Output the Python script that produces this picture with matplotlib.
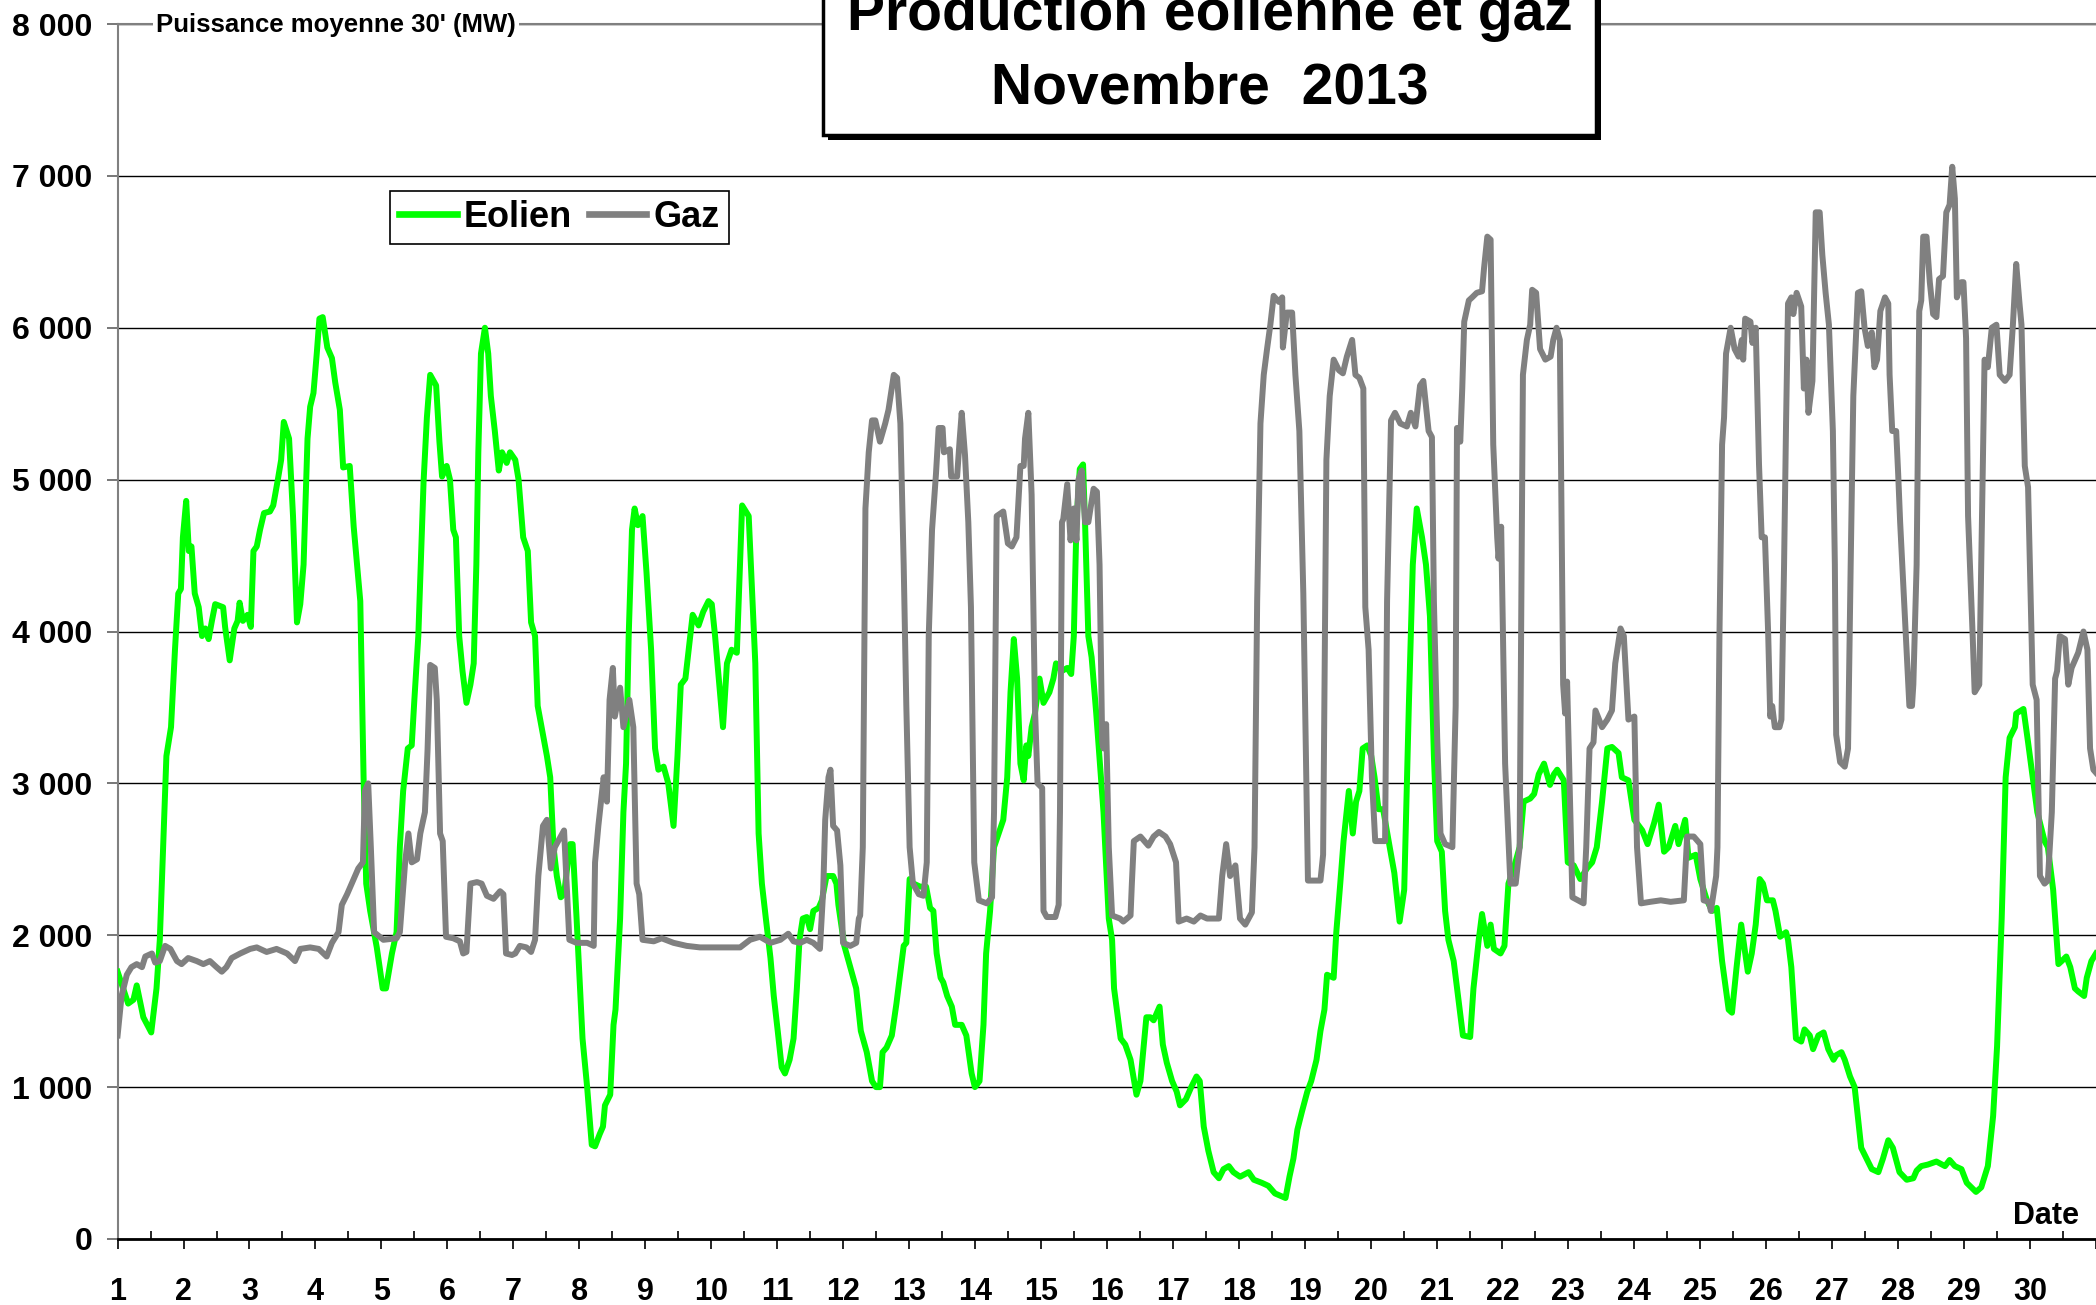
"""
Production eolienne et gaz - Novembre 2013
Puissance moyenne 30' (MW), valeurs relevees sur le graphique
"""
import matplotlib
matplotlib.use('Agg')
import matplotlib.pyplot as plt
from matplotlib.patches import Rectangle

plt.rcParams['font.family'] = ['Liberation Sans', 'DejaVu Sans']
plt.rcParams['font.weight'] = 'bold'

TITLE_1 = "Production éolienne et gaz"
TITLE_2 = "Novembre  2013"
Y_LABEL = "Puissance moyenne 30' (MW)"
X_LABEL = "Date"

DAYS = list(range(1, 31))
Y_TICKS = [0, 1000, 2000, 3000, 4000, 5000, 6000, 7000, 8000]
Y_TICK_LABELS = ['0', '1 000', '2 000', '3 000', '4 000', '5 000', '6 000', '7 000', '8 000']

# jour (fractionnaire), MW
EOLIEN_T = [
    1.00, 1.16, 1.24, 1.29, 1.39, 1.51, 1.59, 1.64, 1.69, 1.74, 1.81, 1.87, 1.92, 1.96, 1.99,
    2.04, 2.08, 2.12, 2.17, 2.23, 2.28, 2.33, 2.38, 2.43, 2.48, 2.60, 2.63, 2.70, 2.77, 2.82,
    2.85, 2.90, 2.97, 3.02, 3.06, 3.11, 3.16, 3.22, 3.31, 3.36, 3.43, 3.48, 3.52, 3.60, 3.66,
    3.72, 3.77, 3.82, 3.88, 3.92, 3.97, 4.02, 4.06, 4.11, 4.18, 4.25, 4.30, 4.37, 4.42, 4.52,
    4.58, 4.68, 4.73, 4.77, 4.83, 4.93, 5.02, 5.07, 5.16, 5.23, 5.28, 5.33, 5.40, 5.46, 5.50,
    5.56, 5.64, 5.69, 5.74, 5.83, 5.88, 5.92, 5.99, 6.04, 6.09, 6.13, 6.18, 6.23, 6.29, 6.35,
    6.40, 6.44, 6.47, 6.51, 6.57, 6.62, 6.66, 6.72, 6.78, 6.83, 6.90, 6.95, 7.03, 7.08, 7.15,
    7.22, 7.27, 7.33, 7.37, 7.43, 7.51, 7.56, 7.61, 7.66, 7.72, 7.77, 7.86, 7.90, 7.96, 8.05,
    8.12, 8.19, 8.24, 8.31, 8.36, 8.39, 8.47, 8.52, 8.55, 8.62, 8.67, 8.71, 8.75, 8.80, 8.84,
    8.89, 8.96, 9.02, 9.09, 9.15, 9.20, 9.28, 9.35, 9.43, 9.49, 9.54, 9.61, 9.66, 9.72, 9.81,
    9.88, 9.96, 10.01, 10.06, 10.18, 10.24, 10.31, 10.39, 10.47, 10.57, 10.67, 10.72, 10.77, 10.83, 10.90,
    10.95, 11.01, 11.07, 11.12, 11.19, 11.25, 11.30, 11.34, 11.39, 11.45, 11.50, 11.55, 11.63, 11.68, 11.75,
    11.85, 11.90, 11.93, 12.02, 12.11, 12.20, 12.27, 12.36, 12.44, 12.50, 12.56, 12.60, 12.66, 12.74, 12.81,
    12.87, 12.92, 12.96, 13.01, 13.07, 13.17, 13.26, 13.32, 13.37, 13.42, 13.48, 13.52, 13.58, 13.65, 13.70,
    13.80, 13.87, 13.95, 14.00, 14.07, 14.13, 14.17, 14.23, 14.29, 14.36, 14.43, 14.49, 14.54, 14.59, 14.64,
    14.69, 14.74, 14.78, 14.81, 14.86, 14.91, 14.98, 15.04, 15.13, 15.19, 15.23, 15.32, 15.40, 15.46, 15.50,
    15.54, 15.59, 15.64, 15.67, 15.72, 15.77, 15.84, 15.90, 15.95, 16.03, 16.08, 16.11, 16.21, 16.28, 16.36,
    16.45, 16.51, 16.60, 16.66, 16.71, 16.80, 16.85, 16.91, 16.99, 17.06, 17.11, 17.20, 17.28, 17.36, 17.41,
    17.47, 17.54, 17.62, 17.70, 17.77, 17.85, 17.92, 18.02, 18.15, 18.23, 18.35, 18.45, 18.55, 18.71, 18.77,
    18.83, 18.89, 18.96, 19.04, 19.10, 19.18, 19.24, 19.30, 19.34, 19.44, 19.48, 19.54, 19.59, 19.67, 19.73,
    19.78, 19.83, 19.88, 19.95, 20.01, 20.06, 20.12, 20.19, 20.29, 20.36, 20.44, 20.51, 20.58, 20.64, 20.70,
    20.78, 20.84, 20.90, 20.96, 21.01, 21.08, 21.13, 21.18, 21.26, 21.34, 21.40, 21.51, 21.56, 21.64, 21.69,
    21.77, 21.82, 21.87, 21.97, 22.03, 22.09, 22.17, 22.26, 22.32, 22.42, 22.48, 22.55, 22.63, 22.72, 22.78,
    22.83, 22.93, 22.99, 23.08, 23.18, 23.28, 23.36, 23.43, 23.51, 23.59, 23.66, 23.76, 23.81, 23.91, 24.00,
    24.12, 24.20, 24.30, 24.37, 24.45, 24.52, 24.62, 24.67, 24.77, 24.82, 24.93, 25.00, 25.10, 25.18, 25.25,
    25.33, 25.43, 25.48, 25.55, 25.62, 25.72, 25.78, 25.84, 25.90, 25.95, 26.01, 26.10, 26.14, 26.21, 26.30,
    26.33, 26.38, 26.45, 26.53, 26.58, 26.66, 26.71, 26.79, 26.87, 26.94, 27.02, 27.06, 27.14, 27.19, 27.27,
    27.34, 27.44, 27.52, 27.60, 27.70, 27.77, 27.85, 27.92, 28.02, 28.13, 28.23, 28.28, 28.35, 28.45, 28.58,
    28.71, 28.78, 28.86, 28.96, 29.04, 29.11, 29.18, 29.26, 29.36, 29.44, 29.50, 29.57, 29.60, 29.63, 29.69,
    29.77, 29.79, 29.90, 29.97, 30.04, 30.11, 30.22, 30.27, 30.35, 30.43, 30.48, 30.55, 30.61, 30.68, 30.73,
    30.82, 30.86, 30.93, 31.00,
]
EOLIEN_MW = [
    1760, 1550, 1575, 1670, 1460, 1360, 1650, 1970, 2580, 3180, 3370, 3880, 4250, 4280, 4620,
    4860, 4530, 4560, 4250, 4160, 3970, 4020, 3950, 4070, 4180, 4160, 4030, 3810, 4020, 4070,
    4190, 4070, 4110, 4030, 4530, 4560, 4670, 4780, 4790, 4830, 5000, 5130, 5380, 5270, 4760,
    4060, 4180, 4440, 5270, 5480, 5570, 5830, 6060, 6070, 5870, 5800, 5640, 5460, 5080, 5090,
    4690, 4200, 3040, 2340, 2160, 1920, 1650, 1650, 1880, 2020, 2580, 2950, 3230, 3250, 3550,
    3970, 4990, 5410, 5690, 5620, 5250, 5020, 5090, 5000, 4670, 4620, 3970, 3740, 3530, 3650,
    3790, 4440, 5180, 5830, 6000, 5830, 5550, 5320, 5060, 5180, 5110, 5180, 5130, 5000, 4620,
    4530, 4060, 3970, 3510, 3370, 3180, 3040, 2580, 2390, 2250, 2270, 2600, 2600, 2110, 1320,
    1000, 620, 610, 690, 740, 880, 950, 1410, 1510, 2110, 2810, 3130, 3970, 4670, 4810,
    4700, 4760, 4390, 3880, 3230, 3090, 3110, 3000, 2720, 3180, 3650, 3690, 3880, 4110, 4040,
    4130, 4200, 4180, 3970, 3370, 3790, 3880, 3860, 4830, 4760, 3790, 2670, 2340, 2110, 1850,
    1600, 1370, 1130, 1090, 1180, 1320, 1650, 1970, 2110, 2120, 2040, 2160, 2180, 2230, 2390,
    2390, 2340, 2200, 1930, 1790, 1650, 1370, 1230, 1040, 1000, 1000, 1230, 1260, 1340, 1550,
    1760, 1930, 1950, 2370, 2340, 2320, 2320, 2180, 2160, 1880, 1720, 1690, 1600, 1530, 1410,
    1410, 1340, 1090, 1000, 1040, 1410, 1880, 2160, 2580, 2670, 2760, 3040, 3600, 3950, 3690,
    3130, 3020, 3250, 3180, 3370, 3460, 3690, 3530, 3600, 3690, 3790, 3740, 3760, 3720, 3970,
    4720, 5070, 5100, 4720, 3970, 3830, 3460, 3100, 2810, 2110, 1970, 1650, 1320, 1280, 1180,
    950, 1040, 1460, 1460, 1440, 1530, 1280, 1160, 1040, 970, 880, 920, 1000, 1070, 1040,
    740, 580, 440, 400, 460, 480, 440, 410, 440, 390, 370, 350, 300, 270, 410,
    530, 720, 840, 970, 1040, 1180, 1370, 1510, 1740, 1720, 2020, 2340, 2620, 2950, 2670,
    2880, 2950, 3230, 3250, 3180, 3040, 2830, 2830, 2580, 2410, 2090, 2300, 3510, 4440, 4810,
    4620, 4440, 4100, 3180, 2620, 2550, 2160, 1970, 1830, 1550, 1340, 1330, 1650, 1970, 2140,
    1930, 2070, 1910, 1880, 1930, 2340, 2440, 2580, 2880, 2900, 2930, 3060, 3130, 2990, 3060,
    3090, 3020, 2480, 2460, 2370, 2440, 2480, 2580, 2880, 3230, 3240, 3200, 3040, 3020, 2760,
    2690, 2600, 2740, 2860, 2550, 2580, 2720, 2600, 2760, 2510, 2530, 2370, 2230, 2160, 2180,
    1830, 1510, 1490, 1790, 2070, 1760, 1880, 2070, 2370, 2340, 2230, 2230, 2160, 1990, 2020,
    1970, 1790, 1320, 1300, 1380, 1340, 1250, 1340, 1360, 1250, 1180, 1210, 1230, 1180, 1070,
    1000, 600, 530, 460, 440, 530, 650, 600, 440, 390, 400, 450, 480, 490, 510,
    480, 520, 480, 460, 370, 340, 310, 340, 480, 810, 1270, 2110, 2580, 3040, 3300,
    3370, 3460, 3490, 3270, 3040, 2810, 2620, 2580, 2300, 1810, 1830, 1860, 1790, 1650, 1630,
    1600, 1720, 1830, 1880,
]

GAZ_T = [
    1.00, 1.06, 1.14, 1.21, 1.29, 1.37, 1.42, 1.52, 1.57, 1.64, 1.72, 1.80, 1.90, 1.97, 2.07,
    2.20, 2.30, 2.40, 2.50, 2.58, 2.65, 2.73, 2.86, 3.01, 3.11, 3.26, 3.41, 3.57, 3.69, 3.77,
    3.92, 4.05, 4.17, 4.25, 4.35, 4.40, 4.48, 4.55, 4.65, 4.72, 4.75, 4.80, 4.84, 4.89, 5.03,
    5.23, 5.28, 5.36, 5.41, 5.46, 5.54, 5.59, 5.66, 5.70, 5.74, 5.81, 5.84, 5.89, 5.93, 5.98,
    6.09, 6.19, 6.24, 6.29, 6.35, 6.45, 6.52, 6.60, 6.70, 6.80, 6.85, 6.89, 6.98, 7.03, 7.10,
    7.20, 7.27, 7.33, 7.38, 7.45, 7.51, 7.57, 7.63, 7.77, 7.85, 7.96, 8.12, 8.22, 8.24, 8.29,
    8.37, 8.42, 8.46, 8.51, 8.54, 8.62, 8.67, 8.76, 8.82, 8.87, 8.91, 8.96, 9.13, 9.25, 9.43,
    9.63, 9.83, 10.19, 10.44, 10.59, 10.74, 10.90, 11.05, 11.17, 11.25, 11.35, 11.45, 11.55, 11.65, 11.70,
    11.73, 11.78, 11.81, 11.85, 11.91, 11.96, 12.00, 12.11, 12.20, 12.24, 12.26, 12.30, 12.34, 12.39, 12.44,
    12.49, 12.56, 12.64, 12.69, 12.77, 12.82, 12.87, 12.92, 12.96, 13.01, 13.06, 13.15, 13.22, 13.27, 13.30,
    13.35, 13.41, 13.45, 13.51, 13.53, 13.62, 13.64, 13.73, 13.77, 13.80, 13.85, 13.90, 13.94, 13.99, 14.06,
    14.18, 14.26, 14.29, 14.33, 14.43, 14.50, 14.56, 14.63, 14.69, 14.74, 14.76, 14.81, 14.86, 14.91, 14.95,
    15.02, 15.04, 15.09, 15.22, 15.27, 15.29, 15.32, 15.34, 15.40, 15.45, 15.50, 15.54, 15.57, 15.62, 15.67,
    15.72, 15.80, 15.85, 15.89, 15.93, 15.95, 15.99, 16.03, 16.08, 16.20, 16.25, 16.36, 16.38, 16.41, 16.51,
    16.63, 16.71, 16.79, 16.89, 16.96, 17.05, 17.09, 17.21, 17.32, 17.42, 17.52, 17.70, 17.75, 17.81, 17.87,
    17.95, 18.02, 18.10, 18.20, 18.24, 18.28, 18.33, 18.38, 18.43, 18.48, 18.53, 18.61, 18.66, 18.67, 18.73,
    18.81, 18.86, 18.92, 18.98, 19.05, 19.24, 19.28, 19.33, 19.38, 19.44, 19.52, 19.58, 19.64, 19.72, 19.77,
    19.83, 19.89, 19.92, 19.97, 20.02, 20.07, 20.22, 20.25, 20.31, 20.37, 20.45, 20.55, 20.61, 20.68, 20.75,
    20.80, 20.88, 20.93, 20.96, 21.01, 21.06, 21.13, 21.24, 21.29, 21.31, 21.36, 21.39, 21.42, 21.49, 21.54,
    21.61, 21.69, 21.72, 21.77, 21.82, 21.86, 21.92, 21.94, 21.98, 22.04, 22.12, 22.20, 22.26, 22.31, 22.37,
    22.42, 22.45, 22.51, 22.57, 22.65, 22.73, 22.77, 22.82, 22.87, 22.92, 22.95, 22.98, 23.06, 23.23, 23.27,
    23.32, 23.38, 23.41, 23.51, 23.59, 23.66, 23.71, 23.79, 23.84, 23.91, 24.00, 24.04, 24.10, 24.24, 24.40,
    24.55, 24.75, 24.80, 24.90, 25.00, 25.05, 25.13, 25.16, 25.24, 25.26, 25.29, 25.33, 25.36, 25.39, 25.46,
    25.52, 25.58, 25.63, 25.65, 25.68, 25.76, 25.79, 25.84, 25.89, 25.93, 25.98, 26.03, 26.06, 26.09, 26.13,
    26.20, 26.23, 26.27, 26.30, 26.33, 26.38, 26.41, 26.46, 26.53, 26.57, 26.61, 26.64, 26.70, 26.75, 26.81,
    26.85, 26.90, 26.95, 27.01, 27.04, 27.06, 27.12, 27.19, 27.24, 27.28, 27.32, 27.39, 27.44, 27.49, 27.54,
    27.60, 27.64, 27.68, 27.73, 27.80, 27.85, 27.87, 27.91, 27.97, 28.00, 28.03, 28.09, 28.17, 28.21, 28.23,
    28.28, 28.32, 28.35, 28.38, 28.43, 28.48, 28.53, 28.58, 28.62, 28.68, 28.73, 28.78, 28.82, 28.86, 28.89,
    28.96, 28.99, 29.03, 29.06, 29.13, 29.16, 29.23, 29.26, 29.31, 29.36, 29.42, 29.49, 29.54, 29.62, 29.69,
    29.74, 29.79, 29.84, 29.87, 29.92, 29.97, 30.04, 30.10, 30.15, 30.22, 30.27, 30.33, 30.38, 30.41, 30.45,
    30.53, 30.58, 30.63, 30.73, 30.81, 30.87, 30.91, 30.96, 31.00,
]
GAZ_MW = [
    1340, 1600, 1740, 1790, 1810, 1790, 1860, 1880, 1820, 1830, 1930, 1910, 1830, 1810, 1850,
    1830, 1810, 1830, 1790, 1760, 1790, 1850, 1880, 1910, 1920, 1890, 1910, 1880, 1830, 1910,
    1920, 1910, 1860, 1950, 2020, 2200, 2270, 2340, 2440, 2480, 2950, 3000, 2580, 2020, 1970,
    1980, 2020, 2480, 2670, 2480, 2500, 2670, 2810, 3220, 3780, 3760, 3550, 2670, 2620, 1990,
    1980, 1960, 1880, 1890, 2340, 2350, 2340, 2260, 2240, 2290, 2270, 1880, 1870, 1880, 1930,
    1920, 1890, 1970, 2390, 2720, 2760, 2440, 2580, 2690, 1970, 1950, 1950, 1930, 2480, 2720,
    3040, 2880, 3550, 3760, 3440, 3630, 3370, 3550, 3370, 2340, 2270, 1970, 1960, 1980, 1950,
    1930, 1920, 1920, 1920, 1970, 1990, 1950, 1970, 2010, 1960, 1950, 1970, 1950, 1910, 2300,
    2760, 3040, 3090, 2720, 2690, 2460, 1950, 1930, 1950, 2110, 2130, 2580, 4810, 5180, 5390,
    5390, 5250, 5370, 5460, 5690, 5670, 5370, 4440, 3510, 2580, 2340, 2270, 2260, 2480, 3970,
    4670, 5040, 5340, 5340, 5180, 5200, 5020, 5020, 5270, 5440, 5160, 4720, 4160, 2480, 2230,
    2210, 2250, 2810, 4760, 4790, 4580, 4560, 4620, 5090, 5090, 5270, 5440, 4900, 3510, 3000,
    2970, 2160, 2120, 2120, 2200, 2810, 4720, 4740, 4970, 4600, 4810, 4600, 5000, 5060, 4720,
    4720, 4940, 4920, 4440, 3270, 3230, 3390, 2580, 2130, 2110, 2090, 2130, 2340, 2620, 2650,
    2590, 2650, 2680, 2650, 2600, 2480, 2090, 2110, 2090, 2130, 2110, 2110, 2390, 2600, 2390,
    2460, 2110, 2070, 2150, 2580, 4200, 5370, 5690, 5860, 6020, 6210, 6170, 6200, 5870, 6100,
    6100, 5690, 5320, 4250, 2360, 2360, 2530, 5130, 5550, 5790, 5720, 5700, 5810, 5920, 5690,
    5670, 5600, 4160, 3880, 3040, 2620, 2620, 4200, 5390, 5440, 5370, 5350, 5440, 5350, 5620,
    5650, 5320, 5280, 4200, 3300, 2670, 2600, 2580, 3510, 5340, 5250, 5600, 6040, 6180, 6200,
    6230, 6240, 6390, 6600, 6580, 5230, 4620, 4480, 4690, 3130, 2340, 2340, 2580, 5690, 5920,
    6020, 6250, 6230, 5860, 5790, 5810, 5920, 6000, 5920, 3650, 3460, 3670, 2250, 2210, 2580,
    3230, 3270, 3480, 3370, 3420, 3480, 3790, 4020, 3970, 3420, 3440, 2580, 2210, 2220, 2230,
    2220, 2230, 2650, 2650, 2600, 2230, 2220, 2160, 2390, 2580, 3970, 5230, 5410, 5830, 6000,
    5860, 5810, 5920, 5790, 6060, 6040, 5900, 6000, 5100, 4620, 4620, 3970, 3440, 3510, 3370,
    3370, 3420, 4440, 5370, 6160, 6200, 6090, 6230, 6140, 5600, 5790, 5440, 5650, 6760, 6760,
    6480, 6230, 6020, 5320, 4440, 3320, 3140, 3110, 3230, 4440, 5550, 6230, 6240, 6000, 5880,
    5970, 5740, 5790, 6110, 6200, 6160, 5690, 5320, 5320, 5040, 4720, 4200, 3510, 3510, 3650,
    4440, 6110, 6180, 6600, 6600, 6300, 6090, 6070, 6320, 6340, 6760, 6810, 7060, 6850, 6200,
    6300, 6300, 5930, 4760, 3970, 3600, 3650, 4440, 5790, 5740, 6000, 6020, 5690, 5650, 5690,
    6020, 6420, 6160, 6020, 5090, 4950, 3650, 3550, 2390, 2340, 2360, 2810, 3690, 3740, 3970,
    3950, 3650, 3760, 3860, 4000, 3880, 3230, 3090, 3070,
]

W, H = 2096, 1305


def main():
    fig = plt.figure(figsize=(W / 100, H / 100), dpi=100)
    ax = fig.add_axes([117.6 / W, 66 / H, 1 - 117.6 / W, 1215 / H])

    ax.plot(EOLIEN_T, EOLIEN_MW, color='#00FF00', lw=4.3, label='Eolien', zorder=3)
    ax.plot(GAZ_T, GAZ_MW, color='#808080', lw=4.3, label='Gaz', zorder=4)

    ax.set_xlim(1, 31)
    ax.set_ylim(0, 8000)
    ax.set_yticks(Y_TICKS)
    ax.set_yticklabels(Y_TICK_LABELS)
    ax.set_xticks(DAYS + [31])
    ax.set_xticklabels([str(d) for d in DAYS] + [''])
    ax.set_xticks([d + 0.5 for d in DAYS], minor=True)

    ax.tick_params(axis='x', which='major', direction='out', length=7, width=1.2,
                   pad=20, labelsize=22)
    ax.tick_params(axis='x', which='minor', direction='in', length=6, width=1.2)
    ax.tick_params(axis='y', which='major', direction='out', length=8, width=1.2,
                   pad=10, labelsize=23, color='#606060')

    ax.yaxis.grid(True, color='black', lw=1.0)
    ax.set_axisbelow(True)
    ax.spines['right'].set_visible(False)
    ax.spines['top'].set_color('#808080')
    ax.spines['top'].set_linewidth(1.5)
    ax.spines['left'].set_color('#808080')
    ax.spines['left'].set_linewidth(1.5)
    ax.spines['bottom'].set_linewidth(2)

    leg = ax.legend(loc='upper left', bbox_to_anchor=((390 - 117.6) / 1978.4, (1239 - 191) / 1215),
                    ncol=2, fontsize=26, frameon=True, fancybox=False, edgecolor='black',
                    framealpha=1, borderpad=0.25, handlelength=1.6, handletextpad=0.2,
                    columnspacing=0.45, borderaxespad=0)
    leg.get_frame().set_linewidth(1.2)
    for line in leg.get_lines():
        line.set_linewidth(4.8)

    # cadre du titre avec ombre
    x0, x1, yb = 823 / W, 1596 / W, 1 - 135 / H
    fig.add_artist(Rectangle((x0 + 5 / W, yb - 5 / H), x1 - x0, 0.2, transform=fig.transFigure,
                             facecolor='black', edgecolor='black', lw=0, zorder=5))
    fig.add_artist(Rectangle((x0, yb), x1 - x0, 0.2, transform=fig.transFigure,
                             facecolor='white', edgecolor='black', lw=2.5, zorder=6))
    xc = (x0 + x1) / 2
    fig.text(xc, 1 - 30 / H, TITLE_1, ha='center', va='baseline', fontsize=41, zorder=7)
    fig.text(xc, 1 - 103 / H, TITLE_2, ha='center', va='baseline', fontsize=41, zorder=7)

    fig.text(156 / W, 1 - 32 / H, Y_LABEL, ha='left', va='baseline', fontsize=18.5, zorder=7,
             bbox=dict(facecolor='white', edgecolor='none', pad=2))
    fig.text(2046 / W, 1 - 1224 / H, X_LABEL, ha='center', va='baseline', fontsize=22, zorder=7)

    fig.savefig('out.png', dpi=100)


if __name__ == "__main__":
    main()
